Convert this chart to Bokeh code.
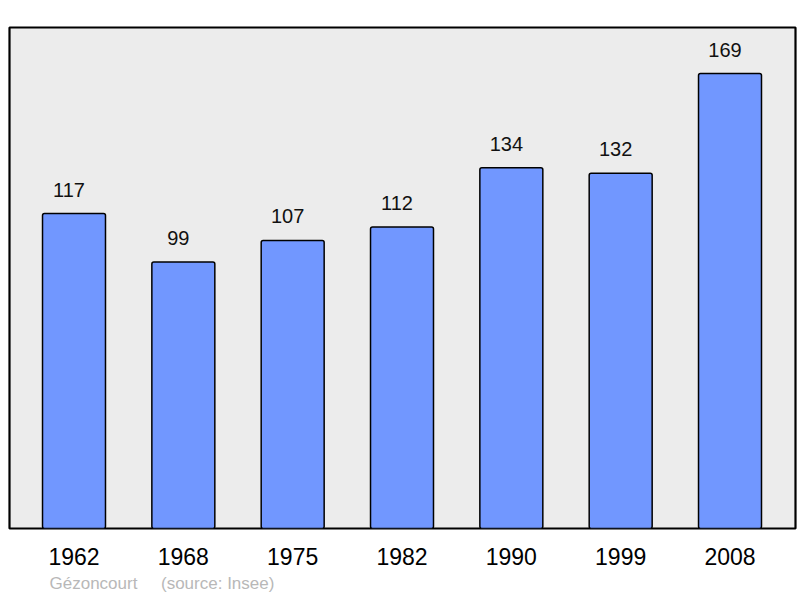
from bokeh.plotting import figure
from bokeh.models import ColumnDataSource, Range1d, FixedTicker, Title
from bokeh.core.properties import value
from bokeh.embed import file_html
from bokeh.resources import INLINE

years = ["1962", "1968", "1975", "1982", "1990", "1999", "2008"]
population = [117, 99, 107, 112, 134, 132, 169]
place = "Gézoncourt"
source_note = "(source: Insee)"

xs = list(range(len(years)))
src = ColumnDataSource(dict(x=xs, pop=population, lbl=[str(v) for v in population]))

p = figure(width=800, height=598, output_backend="svg", toolbar_location=None,
           x_range=Range1d(-0.59, 6.599), y_range=Range1d(0, 186.1),
           min_border_left=9, min_border_right=5, min_border_top=27, min_border_bottom=70)
p.background_fill_color = "#ececec"
p.border_fill_color = "white"
p.outline_line_color = "black"
p.outline_line_width = 2.2
p.grid.visible = False
p.yaxis.visible = False

p.vbar(x="x", top="pop", width=0.576, source=src, fill_color="#7197ff",
       line_color="black", line_width=1.5, border_radius=2)
p.text(x="x", y="pop", text="lbl", source=src, text_align="center",
       text_baseline="alphabetic", x_offset=-5, y_offset=-24,
       text_font=value("Liberation Sans"),
       text_font_size="20px", text_color="#111111")

ax = p.xaxis[0]
ax.ticker = FixedTicker(ticks=xs)
ax.major_label_overrides = {i: y for i, y in zip(xs, years)}
ax.axis_line_color = None
ax.major_tick_line_color = None
ax.minor_tick_line_color = None
ax.major_label_text_font = "Liberation Sans"
ax.major_label_text_font_size = "23px"
ax.major_label_text_color = "black"
ax.major_label_standoff = 13

footer = Title(text=place + "\u00a0" * 5 + source_note, align="left", offset=40,
               text_font="Liberation Sans", text_font_size="17px",
               text_font_style="normal", text_color="#b8b8b8", standoff=9)
p.add_layout(footer, "below")

open("out.html", "w").write(file_html(p, INLINE))
